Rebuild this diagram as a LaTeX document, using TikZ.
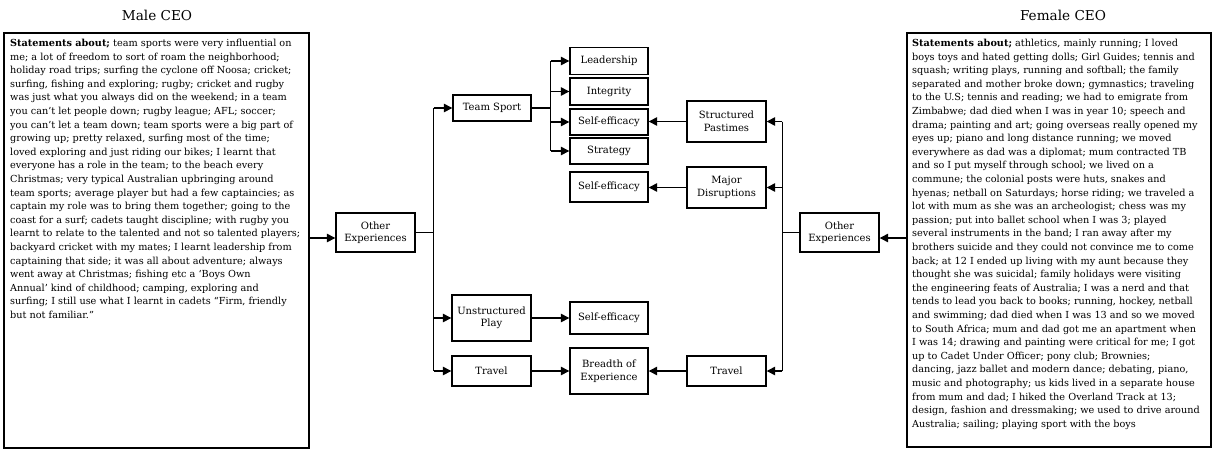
\documentclass[tikz,border=0pt]{standalone}
\usepackage{fontspec}
\setmainfont{DejaVu Serif}
\usetikzlibrary{arrows.meta}
\tikzset{
  box/.style={draw, line width=1.4pt, inner sep=0pt, align=center,
    font=\fontsize{10}{12.5}\selectfont, minimum width=78pt},
  bigbox/.style={draw, line width=1.6pt, inner sep=0pt},
  body/.style={anchor=north west, inner sep=0pt, align=left,
    font=\fontsize{9.7}{13.6}\selectfont},
  title/.style={font=\fontsize{13.6}{15}\selectfont},
  link/.style={line width=1.4pt},
  arr/.style={link, -{Triangle[length=8.5pt,width=8.5pt]}}
}
\begin{document}
\begin{tikzpicture}[x=1pt,y=-1pt]
\useasboundingbox (0,0) rectangle (1214,450);

% titles
\node[title] (mt) at (157,15) {Male CEO};
\node[title] (ft) at (1063,15) {Female CEO};

% statement panels
\node[bigbox, minimum width=305pt, minimum height=415pt] (male) at (156.5,240.5) {};
\node[body] (mtext) at (10,39) {\textbf{Statements about;} team sports were very influential on\\
me; a lot of freedom to sort of roam the neighborhood;\\
holiday road trips; surfing the cyclone off Noosa; cricket;\\
surfing, fishing and exploring; rugby; cricket and rugby\\
was just what you always did on the weekend; in a team\\
you can’t let people down; rugby league; AFL; soccer;\\
you can’t let a team down; team sports were a big part of\\
growing up; pretty relaxed, surfing most of the time;\\
loved exploring and just riding our bikes; I learnt that\\
everyone has a role in the team; to the beach every\\
Christmas; very typical Australian upbringing around\\
team sports; average player but had a few captaincies; as\\
captain my role was to bring them together; going to the\\
coast for a surf; cadets taught discipline; with rugby you\\
learnt to relate to the talented and not so talented players;\\
backyard cricket with my mates; I learnt leadership from\\
captaining that side; it was all about adventure; always\\
went away at Christmas; fishing etc a ‘Boys Own\\
Annual’ kind of childhood; camping, exploring and\\
surfing; I still use what I learnt in cadets “Firm, friendly\\
but not familiar.”};

\node[bigbox, minimum width=304pt, minimum height=414pt] (female) at (1059,240) {};
\node[body] (ftext) at (912,39) {\textbf{Statements about;} athletics, mainly running; I loved\\
boys toys and hated getting dolls; Girl Guides; tennis and\\
squash; writing plays, running and softball; the family\\
separated and mother broke down; gymnastics; traveling\\
to the U.S; tennis and reading; we had to emigrate from\\
Zimbabwe; dad died when I was in year 10; speech and\\
drama; painting and art; going overseas really opened my\\
eyes up; piano and long distance running; we moved\\
everywhere as dad was a diplomat; mum contracted TB\\
and so I put myself through school; we lived on a\\
commune; the colonial posts were huts, snakes and\\
hyenas; netball on Saturdays; horse riding; we traveled a\\
lot with mum as she was an archeologist; chess was my\\
passion; put into ballet school when I was 3; played\\
several instruments in the band; I ran away after my\\
brothers suicide and they could not convince me to come\\
back; at 12 I ended up living with my aunt because they\\
thought she was suicidal; family holidays were visiting\\
the engineering feats of Australia; I was a nerd and that\\
tends to lead you back to books; running, hockey, netball\\
and swimming; dad died when I was 13 and so we moved\\
to South Africa; mum and dad got me an apartment when\\
I was 14; drawing and painting were critical for me; I got\\
up to Cadet Under Officer; pony club; Brownies;\\
dancing, jazz ballet and modern dance; debating, piano,\\
music and photography; us kids lived in a separate house\\
from mum and dad; I hiked the Overland Track at 13;\\
design, fashion and dressmaking; we used to drive around\\
Australia; sailing; playing sport with the boys};

% experience categories
\node[box, minimum width=79pt, minimum height=39pt] (loe) at (375.5,232.5) {Other\\Experiences};
\node[box, minimum width=79pt, minimum height=39pt] (roe) at (839.5,232.5) {Other\\Experiences};
\node[box, minimum height=26pt] (ts) at (492,108) {Team Sport};
\node[box, minimum width=79pt, minimum height=46pt] (up) at (491.5,318) {Unstructured\\Play};
\node[box, minimum width=79pt, minimum height=30pt] (lt) at (491.5,371) {Travel};
\node[box, minimum width=79pt, minimum height=41pt] (sp) at (726.5,121.5) {Structured\\Pastimes};
\node[box, minimum width=79pt, minimum height=41pt] (md) at (726.5,187.5) {Major\\Disruptions};
\node[box, minimum width=79pt, minimum height=30pt] (rt) at (726.5,371) {Travel};

% outcomes
\node[box, minimum height=27pt] (lead) at (609,61) {Leadership};
\node[box, minimum height=27pt] (integ) at (609,91.5) {Integrity};
\node[box, minimum height=26pt] (se1) at (609,122) {Self-efficacy};
\node[box, minimum height=26pt] (strat) at (609,151) {Strategy};
\node[box, minimum height=30pt] (se2) at (609,187) {Self-efficacy};
\node[box, minimum height=32pt] (se3) at (609,318) {Self-efficacy};
\node[box, minimum height=46pt] (boe) at (609,371) {Breadth of\\Experience};

% panels into the category boxes
\draw[arr] (male.east |- {(0,238)}) -- (loe.west |- {(0,238)});
\draw[arr] (female.west |- {(0,238)}) -- (roe.east |- {(0,238)});

% male branching
\draw[link] (loe.east) -- ++(18,0) coordinate (lj);
\draw[link] (lj |- ts) -- (lj |- lt);
\draw[arr] (lj |- ts) -- (ts.west);
\draw[arr] (lj |- up) -- (up.west);
\draw[arr] (lj |- lt) -- (lt.west);

\draw[link] (ts.east) -- ++(19,0) coordinate (tj);
\draw[link] (tj |- lead) -- (tj |- strat);
\draw[arr] (tj |- lead) -- (lead.west);
\draw[arr] (tj |- integ) -- (integ.west);
\draw[arr] (tj |- se1) -- (se1.west);
\draw[arr] (tj |- strat) -- (strat.west);

\draw[arr] (up) -- (se3);
\draw[arr] (lt) -- (boe);

% female branching
\draw[link] (roe.west) -- ++(-17,0) coordinate (rj);
\draw[link] (rj |- sp) -- (rj |- rt);
\draw[arr] (rj |- sp) -- (sp.east);
\draw[arr] (rj |- md) -- (md.east);
\draw[arr] (rj |- rt) -- (rt.east);

\draw[arr] (sp.west) -- (se1.east |- sp);
\draw[arr] (md.west) -- (se2.east |- md);
\draw[arr] (rt) -- (boe);
\end{tikzpicture}
\end{document}
